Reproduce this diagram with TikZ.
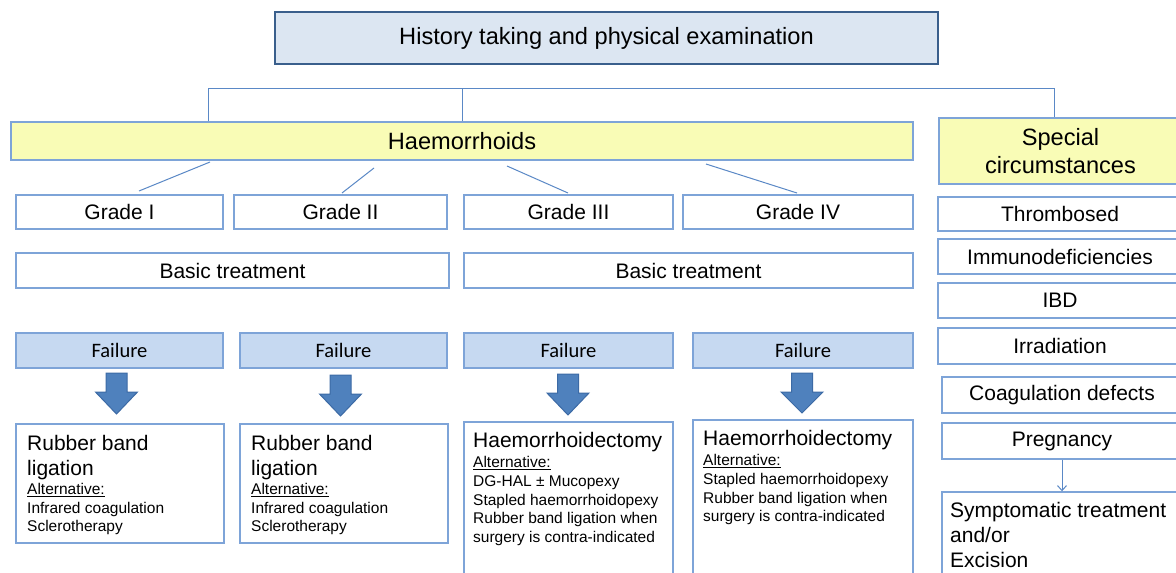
\documentclass[tikz,border=0pt]{standalone}
\usepackage{fontspec}
\setmainfont{Liberation Sans}
\newfontfamily\calib{Carlito}
\usetikzlibrary{arrows.meta}
\definecolor{topfill}{HTML}{DCE6F2}
\definecolor{topline}{HTML}{3A5F8C}
\definecolor{yel}{HTML}{F9FCB6}
\definecolor{bline}{HTML}{7EA4D8}
\definecolor{ffill}{HTML}{C6D9F1}
\definecolor{afill}{HTML}{4F81BD}
\definecolor{aline}{HTML}{3C6AA5}
\definecolor{connc}{HTML}{5A88C6}
\newcommand\fs[2]{\fontsize{#1}{#2}\selectfont}
\newcommand\rbox[7]{\node[#6, minimum width={(#4)-(#2)}, minimum height={(#5)-(#3)}] (#1) at ({((#2)+(#4))/2},{((#3)+(#5))/2}) {#7};}
\newcommand\stk[1]{\vtop{\hsize=260pt\parindent=0pt\parskip=0pt #1}}
\newcommand\barr[3]{\path[barrow] (#1-10.5,#2) -- (#1+10.5,#2) -- (#1+10.5,#2+19) -- (#1+21,#2+19) -- (#1,#3) -- (#1-21,#2+19) -- (#1-10.5,#2+19) -- cycle;}
\begin{document}
\begin{tikzpicture}[x=1pt,y=-1pt,
  box/.style={draw=bline, line width=1.4pt, inner sep=0pt, text=black, font=\fs{21}{25}},
  topbox/.style={draw=topline, fill=topfill, line width=2.4pt, inner sep=0pt, font=\fs{23.6}{28}},
  yelbox/.style={box, fill=yel, font=\fs{23.6}{28}},
  failbox/.style={box, fill=ffill, font=\calib\fs{20.5}{24}},
  conn/.style={draw=connc, line width=1pt},
  barrow/.style={fill=afill, draw=aline, line width=1pt},
  txt/.style={anchor=base west, inner sep=0pt},
]
\useasboundingbox (0,0) rectangle (1176,573);
\clip (0,0) rectangle (1176,573);
\fill[white] (0,0) rectangle (1176,573);

\rbox{top}{275}{12}{938}{64}{topbox}{History taking and physical examination}
\rbox{haem}{11}{122}{913}{160}{yelbox}{Haemorrhoids}
\rbox{spec}{939}{118}{1182}{184}{yelbox, align=center}{Special\\circumstances}

\coordinate (hl) at (208,88);
\coordinate (hr) at (1054,88);
\draw[conn] (hl |- haem.north) -- (hl) -- (hr) -- (hr |- spec.north);
\draw[conn] (haem.north) -- (haem.north |- hl);

\rbox{g1}{16}{195}{223}{229}{box}{Grade I}
\rbox{g2}{234}{195}{447}{229}{box}{Grade II}
\rbox{g3}{464}{195}{673}{229}{box}{Grade III}
\rbox{g4}{683}{195}{913}{229}{box}{Grade IV}

\coordinate (d1a) at (210,162); \coordinate (d1b) at (139,191);
\coordinate (d2a) at (374,168); \coordinate (d2b) at (342,193);
\coordinate (d3a) at (507,166); \coordinate (d3b) at (568,193);
\coordinate (d4a) at (706,164); \coordinate (d4b) at (797,193);
\draw[conn] (d1a) -- (d1b);
\draw[conn] (d2a) -- (d2b);
\draw[conn] (d3a) -- (d3b);
\draw[conn] (d4a) -- (d4b);

\rbox{bt1}{16}{253}{449}{288}{box}{Basic treatment}
\rbox{bt2}{464}{253}{913}{288}{box}{Basic treatment}

\rbox{f1}{16}{333}{223}{368}{failbox}{Failure}
\rbox{f2}{240}{333}{447}{368}{failbox}{Failure}
\rbox{f3}{464}{333}{673}{368}{failbox}{Failure}
\rbox{f4}{693}{333}{913}{368}{failbox}{Failure}

\barr{116.5}{373}{414}
\barr{340.5}{375}{416}
\barr{568}{374}{415}
\barr{802}{373}{413}

\rbox{r1}{16}{424}{224}{543}{box}{}
\rbox{r2}{240}{424}{448}{543}{box}{}
\rbox{r3}{464}{422}{673}{600}{box}{}
\rbox{r4}{693}{420}{913}{600}{box}{}

\node[txt] (r1t) at (27,450) {\stk{\fs{21}{25}Rubber band\par ligation\par
  \fs{15.5}{19.5}\underline{Alternative:}\par \fs{15.5}{18.5}Infrared coagulation\par Sclerotherapy\par}};
\node[txt] (r2t) at (251,450) {\stk{\fs{21}{25}Rubber band\par ligation\par
  \fs{15.5}{19.5}\underline{Alternative:}\par \fs{15.5}{18.5}Infrared coagulation\par Sclerotherapy\par}};
\node[txt] (r3t) at (473,447) {\stk{\fs{21}{25}Haemorrhoidectomy\par
  \fs{15.5}{20.5}\underline{Alternative:}\par \fs{15.5}{18.8}DG-HAL ± Mucopexy\par Stapled haemorrhoidopexy\par Rubber band ligation when\par surgery is contra-indicated\par}};
\node[txt] (r4t) at (703,445) {\stk{\fs{21}{25}Haemorrhoidectomy\par
  \fs{15.5}{20.5}\underline{Alternative:}\par \fs{15.5}{18.8}Stapled haemorrhoidopexy\par Rubber band ligation when\par surgery is contra-indicated\par}};

\rbox{c1}{938}{197}{1182}{231}{box}{Thrombosed}
\rbox{c2}{938}{239}{1182}{274}{box}{Immunodeficiencies}
\rbox{c3}{938}{283}{1182}{318}{box}{IBD}
\rbox{c4}{938}{328}{1182}{364}{box}{Irradiation}
\rbox{c5}{942}{377}{1182}{413}{box}{Coagulation defects}
\rbox{c6}{942}{423}{1182}{459}{box}{Pregnancy}
\rbox{c7}{942}{492}{1182}{600}{box}{}
\node[txt] (c7t) at (950,517) {\stk{\fs{21}{25}Symptomatic treatment\par and/or\par Excision\par}};
\draw[conn, -{Straight Barb[length=5pt,width=9pt]}] (c6) -- (c7);
\end{tikzpicture}
\end{document}
